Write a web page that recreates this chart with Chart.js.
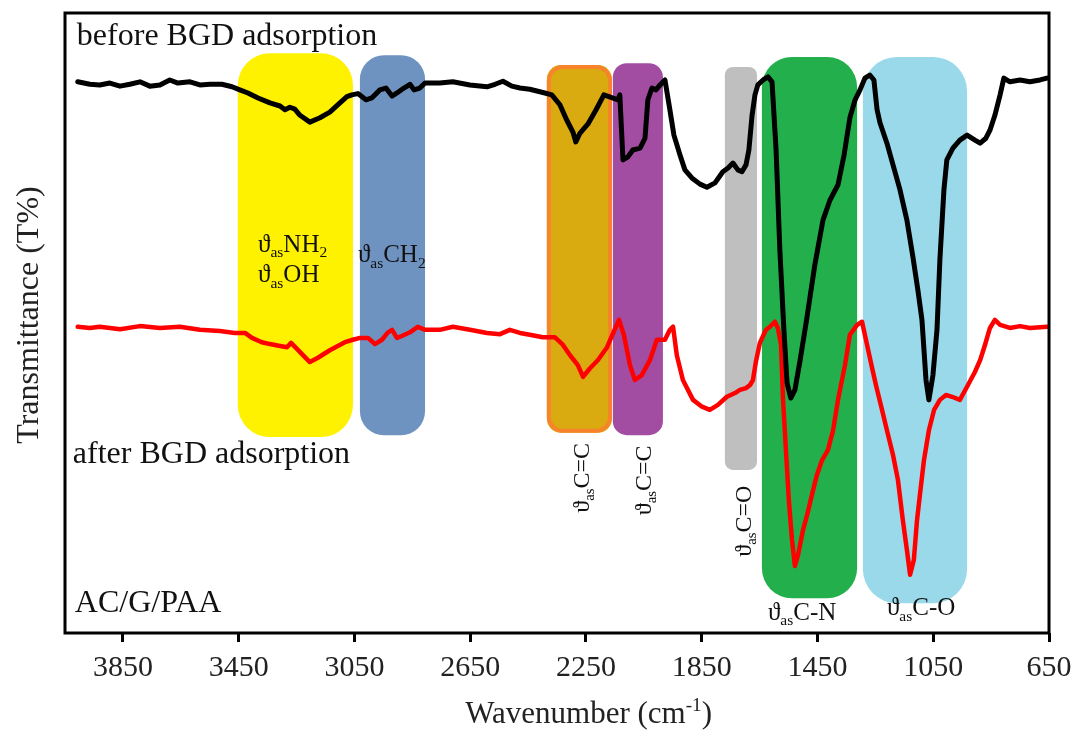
<!doctype html>
<html lang="en">

<head>
    <meta charset="utf-8">
    <title>FTIR AC/G/PAA</title>
    <style>
        * {
            margin: 0;
            padding: 0;
        }

        body {
            background: white;
        }
    </style>
</head>

<body>
    <canvas id="myChart" width="1076" height="734"></canvas>
    <script src="https://cdn.jsdelivr.net/npm/chart.js/dist/chart.umd.min.js"></script>
    <script>
        // setup - wavenumber (cm-1) and transmittance (arbitrary %)
        const xTicks = [3850, 3450, 3050, 2650, 2250, 1850, 1450, 1050, 650];

        const beforeWn = [4006, 3964, 3930, 3895, 3860, 3826, 3791, 3757, 3722, 3688, 3660, 3618, 3584, 3549, 3508, 3473, 3446,
            3418, 3383, 3342, 3307, 3290, 3273, 3256, 3238, 3204, 3169, 3135, 3100, 3076, 3059, 3038,
            3010, 2990, 2962, 2941, 2920, 2903, 2879, 2858, 2844, 2824, 2806, 2755, 2710, 2651, 2592, 2564, 2537, 2506, 2478, 2444, 2392,
            2368, 2340, 2316, 2295, 2285, 2271, 2243, 2215, 2188, 2139, 2133, 2122, 2105, 2088, 2063, 2046, 2036, 2022, 2008,
            1994, 1977, 1960, 1946, 1925, 1908, 1884, 1856, 1832, 1804, 1777, 1759, 1742, 1725, 1711, 1697, 1687, 1676, 1666, 1656, 1638, 1621,
            1607, 1593, 1580, 1566, 1555, 1542, 1528, 1510, 1486, 1459, 1431, 1407, 1379, 1358, 1338, 1320, 1303, 1286, 1269,
            1255, 1244, 1234, 1210, 1189, 1165, 1141, 1120, 1103, 1089, 1075, 1065, 1051, 1037, 1027, 1013, 1003, 982, 958,
            933, 906, 888, 868, 854, 837, 819, 806, 785, 750, 716, 681, 657];
        const beforeT = [88.9, 88.5, 88.4, 88.7, 88.2, 88.5, 88.9, 88.2, 88.4, 89.2, 88.7, 88.9, 88.4, 88.5, 88.5, 88.1, 87.6,
            87.1, 86.3, 85.5, 85.0, 84.4, 84.8, 84.5, 83.5, 82.4, 83.1, 84.0, 85.5, 86.5, 86.8, 87.0,
            86.0, 86.3, 87.6, 87.9, 86.6, 87.1, 87.9, 88.5, 87.6, 87.9, 88.7, 88.7, 88.9, 88.4, 88.1, 88.5, 89.0, 88.2, 87.9, 87.7, 87.1,
            86.8, 85.2, 82.7, 80.8, 79.2, 80.6, 82.1, 84.4, 86.8, 86.0, 86.8, 76.3, 76.8, 77.9, 78.2, 79.8, 86.0, 87.9, 87.6,
            88.4, 89.2, 84.4, 80.3, 77.1, 74.7, 73.4, 72.4, 71.9, 72.6, 74.4, 75.0, 75.8, 74.7, 74.4, 75.5, 77.9, 83.5, 86.8, 88.4, 89.2, 89.7,
            88.9, 77.9, 61.8, 48.9, 40.3, 37.9, 39.2, 44.0, 51.0, 59.4, 66.6, 69.8, 72.3, 77.1, 83.1, 86.0, 87.6, 89.5, 90.0,
            89.2, 84.4, 82.3, 79.0, 75.5, 71.5, 66.6, 60.6, 55.3, 50.5, 40.8, 37.6, 41.6, 48.9, 60.2, 71.5, 76.3, 78.2, 79.5,
            80.3, 79.5, 79.0, 79.8, 81.1, 83.5, 86.8, 89.5, 88.9, 89.2, 88.9, 89.2, 89.5];

        const afterWn = [4006, 3964, 3930, 3860, 3791, 3722, 3653, 3584, 3515, 3463, 3428,
            3404, 3370, 3342, 3307, 3283, 3269, 3252, 3221, 3204, 3176, 3135, 3083, 3055, 3031,
            3003, 2979, 2955, 2934, 2920, 2903, 2886, 2858, 2831, 2806, 2755, 2710, 2651, 2592, 2547, 2513, 2478, 2444, 2399,
            2357, 2330, 2305, 2278, 2260, 2236, 2209, 2177, 2136, 2119, 2098, 2081, 2057, 2029, 2005,
            1977, 1960, 1949, 1936, 1915, 1880, 1849, 1822, 1794, 1763, 1735, 1718, 1697, 1683, 1673, 1663, 1649, 1628, 1614, 1597,
            1587, 1576, 1569, 1559, 1549, 1538, 1528, 1517, 1500, 1486, 1469, 1452, 1434, 1414, 1396, 1379, 1355, 1338, 1313, 1296,
            1262, 1248, 1227, 1210, 1189, 1172, 1155, 1141, 1130, 1117, 1106, 1096, 1082, 1065, 1047, 1027, 1006, 985, 958,
            930, 906, 888, 871, 854, 837, 819, 785, 750, 716, 657];
        const afterT = [49.4, 49.2, 49.4, 49.0, 49.5, 49.2, 49.4, 48.9, 48.7, 48.4, 48.4,
            47.6, 46.9, 46.6, 46.3, 46.1, 46.8, 46.0, 44.5, 43.7, 44.4, 45.6, 46.9, 47.3, 47.6,
            47.6, 46.6, 47.3, 48.5, 48.9, 47.6, 47.9, 48.5, 49.4, 48.9, 48.9, 49.4, 48.9, 48.4, 48.2, 48.9, 48.4, 48.1, 47.7,
            47.7, 46.5, 44.8, 43.2, 41.3, 42.7, 44.0, 46.1, 50.5, 48.1, 43.2, 40.8, 41.6, 44.0, 47.3,
            47.3, 48.9, 49.4, 44.8, 40.8, 37.6, 36.5, 36.0, 36.8, 38.1, 38.7, 39.2, 39.5, 40.0, 40.8, 43.7, 46.8, 48.9, 49.4, 50.2,
            49.2, 46.5, 37.6, 29.5, 21.5, 15.0, 10.8, 12.6, 16.6, 19.0, 22.3, 25.5, 27.9, 29.5, 32.7, 37.6, 43.2, 48.1, 49.7, 50.2,
            42.9, 40.0, 36.0, 32.7, 28.7, 24.7, 18.2, 13.4, 9.4, 11.8, 18.2, 22.3, 27.9, 32.7, 36.0, 37.6, 38.4, 38.1, 37.6,
            40.0, 42.1, 44.0, 46.5, 49.2, 50.5, 49.7, 49.2, 49.5, 49.2, 49.4];

        // highlighted absorption regions (wavenumber from/to, transmittance top/bottom)
        const bandFrom = [3453, 3031, 2385, 2157, 1770, 1642, 1293];
        const bandTo = [3055, 2806, 2160, 1984, 1659, 1313, 933];
        const bandTop = [93.5, 93.2, 91.6, 91.9, 91.3, 92.9, 92.9];
        const bandBottom = [31.6, 31.9, 32.3, 31.9, 26.3, 5.6, 4.8];

        const bandStyle = [
            { fill: '#FFF200', r: 32 },
            { fill: '#6F93C0', r: 24 },
            { fill: '#DAAB10', stroke: '#F7842A', r: 14 },
            { fill: '#A24CA2', r: 14 },
            { fill: '#BFBFBF', r: 8 },
            { fill: '#23B04C', r: 30 },
            { fill: '#99D9EA', r: 34 }
        ];

        const serif = '"Liberation Serif", "DejaVu Serif", serif';

        // text labels: [text, 'n' | 'sub' | 'sup'] pieces, anchored in data units
        const labels = [
            { parts: [['before BGD adsorption', 'n']], x: 4009, y: 94.8, size: 32 },
            { parts: [['after BGD adsorption', 'n']], x: 4023, y: 27.4, size: 32 },
            { parts: [['AC/G/PAA', 'n']], x: 4016, y: 3.4, size: 32 },
            { parts: [['ϑ', 'n'], ['as', 'sub'], ['NH', 'n'], ['2', 'sub']], x: 3383, y: 61.5, size: 25 },
            { parts: [['ϑ', 'n'], ['as', 'sub'], ['OH', 'n']], x: 3383, y: 56.6, size: 25 },
            { parts: [['ϑ', 'n'], ['as', 'sub'], ['CH', 'n'], ['2', 'sub']], x: 3038, y: 59.8, size: 25 },
            { parts: [['ϑ', 'n'], ['as', 'sub'], ['C=C', 'n']], x: 2240, y: 19.4, size: 24, rot: true },
            { parts: [['ϑ', 'n'], ['as', 'sub'], ['C=C', 'n']], x: 2025, y: 19.0, size: 24, rot: true },
            { parts: [['ϑ', 'n'], ['as', 'sub'], ['C=O', 'n']], x: 1680, y: 12.3, size: 24, rot: true },
            { parts: [['ϑ', 'n'], ['as', 'sub'], ['C-N', 'n']], x: 1621, y: 2.1, size: 25 },
            { parts: [['ϑ', 'n'], ['as', 'sub'], ['C-O', 'n']], x: 1210, y: 2.9, size: 25 }
        ];

        function drawParts(ctx, parts, size) {
            let pos = 0;
            parts.forEach(([s, kind]) => {
                const fs = kind === 'n' ? size : size * 0.62;
                ctx.font = `${fs}px ${serif}`;
                const dy = kind === 'sub' ? size * 0.22 : kind === 'sup' ? -size * 0.4 : 0;
                ctx.fillText(s, pos, dy);
                pos += ctx.measureText(s).width;
            });
            return pos;
        }

        const toPoints = (xs, ys) => xs.map((v, i) => ({ x: v, y: ys[i] }));

        const data = {
            datasets: [{
                label: 'before BGD adsorption',
                data: toPoints(beforeWn, beforeT),
                borderColor: '#000000',
                borderWidth: 5
            }, {
                label: 'after BGD adsorption',
                data: toPoints(afterWn, afterT),
                borderColor: '#FF0000',
                borderWidth: 4.5
            }]
        };

        const bands = {
            id: 'bands',
            beforeDatasetsDraw(chart) {
                const { ctx, scales: { x, y } } = chart;
                ctx.save();
                bandFrom.forEach((from, i) => {
                    const l = x.getPixelForValue(from);
                    const r = x.getPixelForValue(bandTo[i]);
                    const t = y.getPixelForValue(bandTop[i]);
                    const b = y.getPixelForValue(bandBottom[i]);
                    const st = bandStyle[i];
                    ctx.beginPath();
                    ctx.roundRect(l, t, r - l, b - t, st.r);
                    ctx.fillStyle = st.fill;
                    ctx.fill();
                    if (st.stroke) {
                        ctx.lineWidth = 4;
                        ctx.strokeStyle = st.stroke;
                        ctx.beginPath();
                        ctx.roundRect(l + 2, t + 2, r - l - 4, b - t - 4, st.r);
                        ctx.stroke();
                    }
                });
                ctx.restore();
            },
            afterDraw(chart) {
                const { ctx, chartArea: { top, bottom, left, right }, scales: { x, y } } = chart;
                ctx.save();
                ctx.fillStyle = '#111';
                ctx.textBaseline = 'alphabetic';
                ctx.textAlign = 'left';
                labels.forEach(lb => {
                    ctx.save();
                    ctx.translate(x.getPixelForValue(lb.x), y.getPixelForValue(lb.y));
                    if (lb.rot) ctx.rotate(-Math.PI / 2);
                    drawParts(ctx, lb.parts, lb.size);
                    ctx.restore();
                });

                // frame
                ctx.lineWidth = 3;
                ctx.strokeStyle = '#000';
                ctx.strokeRect(left, top, right - left, bottom - top);

                // axis titles
                ctx.fillStyle = '#222';
                ctx.font = `31px ${serif}`;
                const main = 'Wavenumber (cm';
                const w1 = ctx.measureText(main).width;
                ctx.font = `20px ${serif}`;
                const w2 = ctx.measureText('-1').width;
                ctx.font = `31px ${serif}`;
                const w3 = ctx.measureText(')').width;
                ctx.save();
                ctx.translate(589 - (w1 + w2 + w3) / 2, 723);
                drawParts(ctx, [[main, 'n'], ['-1', 'sup'], [')', 'n']], 31);
                ctx.restore();

                ctx.save();
                ctx.translate(38, 315);
                ctx.rotate(-Math.PI / 2);
                ctx.textAlign = 'center';
                ctx.font = `32px ${serif}`;
                ctx.fillText('Transmittance (T%)', 0, 0);
                ctx.restore();
                ctx.restore();
            }
        };

        // config
        const config = {
            type: 'line',
            data,
            options: {
                responsive: false,
                animation: false,
                devicePixelRatio: 1,
                layout: {
                    padding: { left: 65, right: 27, top: 13, bottom: 0 }
                },
                elements: {
                    point: { radius: 0 },
                    line: { tension: 0, borderJoinStyle: 'round', borderCapStyle: 'round' }
                },
                plugins: {
                    legend: { display: false },
                    tooltip: { enabled: false }
                },
                scales: {
                    x: {
                        type: 'linear',
                        reverse: true,
                        min: 650,
                        max: 4050,
                        afterBuildTicks: scale => {
                            scale.ticks = xTicks.map(v => ({ value: v }));
                        },
                        afterFit: scale => {
                            scale.height = 101;
                            scale.paddingLeft = 0;
                            scale.paddingRight = 0;
                        },
                        border: { display: false },
                        grid: {
                            drawOnChartArea: false,
                            drawTicks: true,
                            tickLength: 9,
                            tickWidth: 3,
                            tickColor: '#000'
                        },
                        ticks: {
                            autoSkip: false,
                            maxRotation: 0,
                            padding: 8,
                            color: '#222',
                            font: { family: serif, size: 30 },
                            callback: v => String(v)
                        }
                    },
                    y: {
                        display: false,
                        min: 0,
                        max: 100
                    }
                }
            },
            plugins: [bands]
        };

        // render init block
        const myChart = new Chart(
            document.getElementById('myChart'),
            config
        );
    </script>

</body>

</html>
